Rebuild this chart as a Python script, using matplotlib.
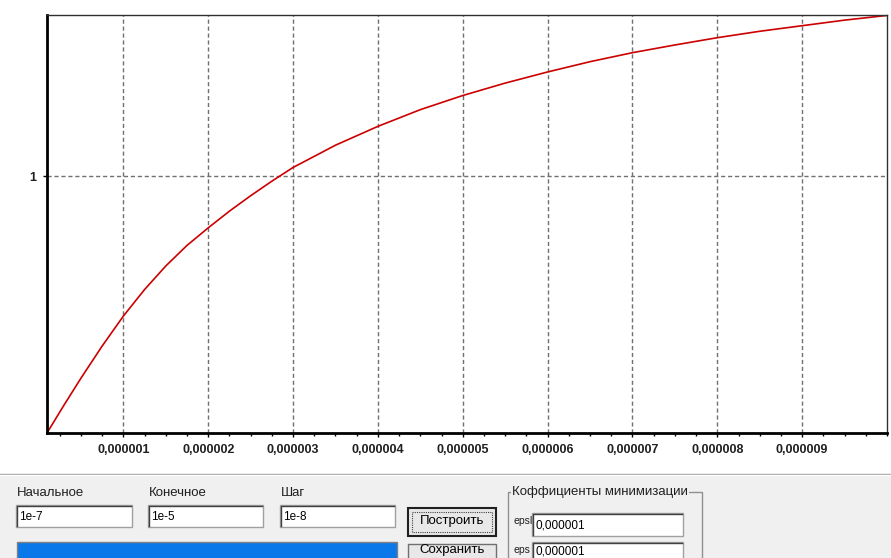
import matplotlib.pyplot as plt
import matplotlib.ticker as mticker
from matplotlib.patches import Rectangle

plt.rcParams['font.family'] = ['Liberation Sans', 'DejaVu Sans']

# данные кривой
x_vals = [1e-7, 0.3e-6, 0.5e-6, 0.75e-6, 1.0e-6, 1.25e-6, 1.5e-6, 1.75e-6, 2.0e-6,
          2.25e-6, 2.5e-6, 2.75e-6, 3.0e-6, 3.5e-6, 4.0e-6, 4.5e-6, 5.0e-6, 5.5e-6,
          6.0e-6, 6.5e-6, 7.0e-6, 7.5e-6, 8.0e-6, 8.5e-6, 9.0e-6, 9.5e-6, 1.0e-5]
y_vals = [0.400, 0.465, 0.528, 0.603, 0.673, 0.735, 0.790, 0.838, 0.879,
          0.918, 0.954, 0.988, 1.020, 1.072, 1.116, 1.155, 1.188, 1.217,
          1.243, 1.267, 1.288, 1.306, 1.323, 1.338, 1.351, 1.364, 1.375]

x_ticks = [1e-6, 2e-6, 3e-6, 4e-6, 5e-6, 6e-6, 7e-6, 8e-6, 9e-6]
x_labels = ['0,000001', '0,000002', '0,000003', '0,000004', '0,000005',
            '0,000006', '0,000007', '0,000008', '0,000009']
y_ticks = [1]
y_labels = ['1']

field_names = ['Начальное', 'Конечное', 'Шаг']
field_values = ['1e-7', '1e-5', '1e-8']
button_names = ['Построить', 'Сохранить']
group_title = 'Коффициенты минимизации'
eps_names = ['epsl', 'eps']
eps_values = ['0,000001', '0,000001']

W, H = 891, 558
fig = plt.figure(figsize=(W / 100, H / 100), dpi=100)
fig.patch.set_facecolor('white')

# нижняя панель с элементами формы (в пикселях)
ui = fig.add_axes([0, 0, 1, 1])
ui.set_xlim(0, W)
ui.set_ylim(H, 0)
ui.axis('off')
ui.add_patch(Rectangle((0, 474), W, H - 474, facecolor='#f0f0f0', edgecolor='none'))
ui.plot([0, W], [474, 474], color='#a0a0a0', lw=1)
ui.plot([0, W], [475, 475], color='white', lw=1)


def textbox(x0, y0, x1, y1, text, ty=None):
    ui.add_patch(Rectangle((x0, y0), x1 - x0, y1 - y0, facecolor='white',
                           edgecolor='#a0a0a0', lw=1))
    ui.plot([x0 + 1, x0 + 1, x1 - 1], [y1 - 1, y0 + 1, y0 + 1], color='#404040', lw=1)
    if ty is None:
        ty = (y0 + y1) / 2 + 1
    ui.text(x0 + 3, ty, text, fontsize=8.5, va='center', ha='left', color='black')


def button(x0, y0, x1, y1, text, ty, default=False):
    ui.add_patch(Rectangle((x0, y0), x1 - x0, y1 - y0, facecolor='#e8e8e8',
                           edgecolor='#202020' if default else '#707070',
                           lw=1.5 if default else 1))
    if default:
        ui.add_patch(Rectangle((x0 + 4, y0 + 4), x1 - x0 - 8, y1 - y0 - 8,
                               facecolor='none', edgecolor='#404040', lw=0.8,
                               linestyle=(0, (1, 1))))
    ui.text((x0 + x1) / 2, ty, text, fontsize=9.5, ha='center', va='center',
            color='black')


boxes_x = [(16, 132), (148, 263), (280, 395)]
for (bx0, bx1), name, val in zip(boxes_x, field_names, field_values):
    ui.text(bx0 + 1, 493, name, fontsize=9.5, va='center', ha='left', color='#202020')
    textbox(bx0, 505, bx1, 527, val)

# синяя полоса (прогресс)
ui.add_patch(Rectangle((17, 542), 380, 30, facecolor='#0a78e8', edgecolor='#808080', lw=1))

button(408, 508, 496, 536, button_names[0], 521, default=True)
button(408, 544, 496, 574, button_names[1], 549.5)

# группа коэффициентов
ui.add_patch(Rectangle((508, 492), 194, 80, facecolor='none', edgecolor='#909090', lw=1))
ui.text(512, 492, group_title, fontsize=9.5, va='center', ha='left', color='#202020',
        bbox=dict(facecolor='#f0f0f0', edgecolor='none', pad=0.5))
for ey, name, val in zip([513, 542], eps_names, eps_values):
    ui.text(513, ey + 8, name, fontsize=7.5, va='center', ha='left', color='#202020')
    textbox(532, ey, 683, ey + 23, val, ty=ey + 9 if ey > 530 else None)

# график
ax = fig.add_axes([47 / W, (H - 433) / H, (887 - 47) / W, (433 - 15) / H])
ax.set_facecolor('white')
ax.plot(x_vals, y_vals, color='#cc0000', lw=1.2)
ax.set_xlim(1e-7, 1e-5)
ax.set_ylim(0.4, 1.376)
ax.set_xticks(x_ticks, x_labels)
ax.xaxis.set_minor_locator(mticker.MultipleLocator(0.25e-6))
ax.set_yticks(y_ticks, y_labels)
ax.grid(True, which='major', color='#707070', linestyle=(0, (3, 2)), lw=1)
ax.tick_params(which='major', direction='out', length=3, width=1, labelsize=9, pad=5)
ax.tick_params(which='minor', direction='out', length=2.5, width=1)
for lab in ax.get_xticklabels() + ax.get_yticklabels():
    lab.set_fontweight('bold')
    lab.set_color('#202020')
for s in ['left', 'bottom']:
    ax.spines[s].set_linewidth(2)
    ax.spines[s].set_color('black')
for s in ['top', 'right']:
    ax.spines[s].set_linewidth(1)
    ax.spines[s].set_color('#303030')

fig.savefig('out.png', dpi=100)
